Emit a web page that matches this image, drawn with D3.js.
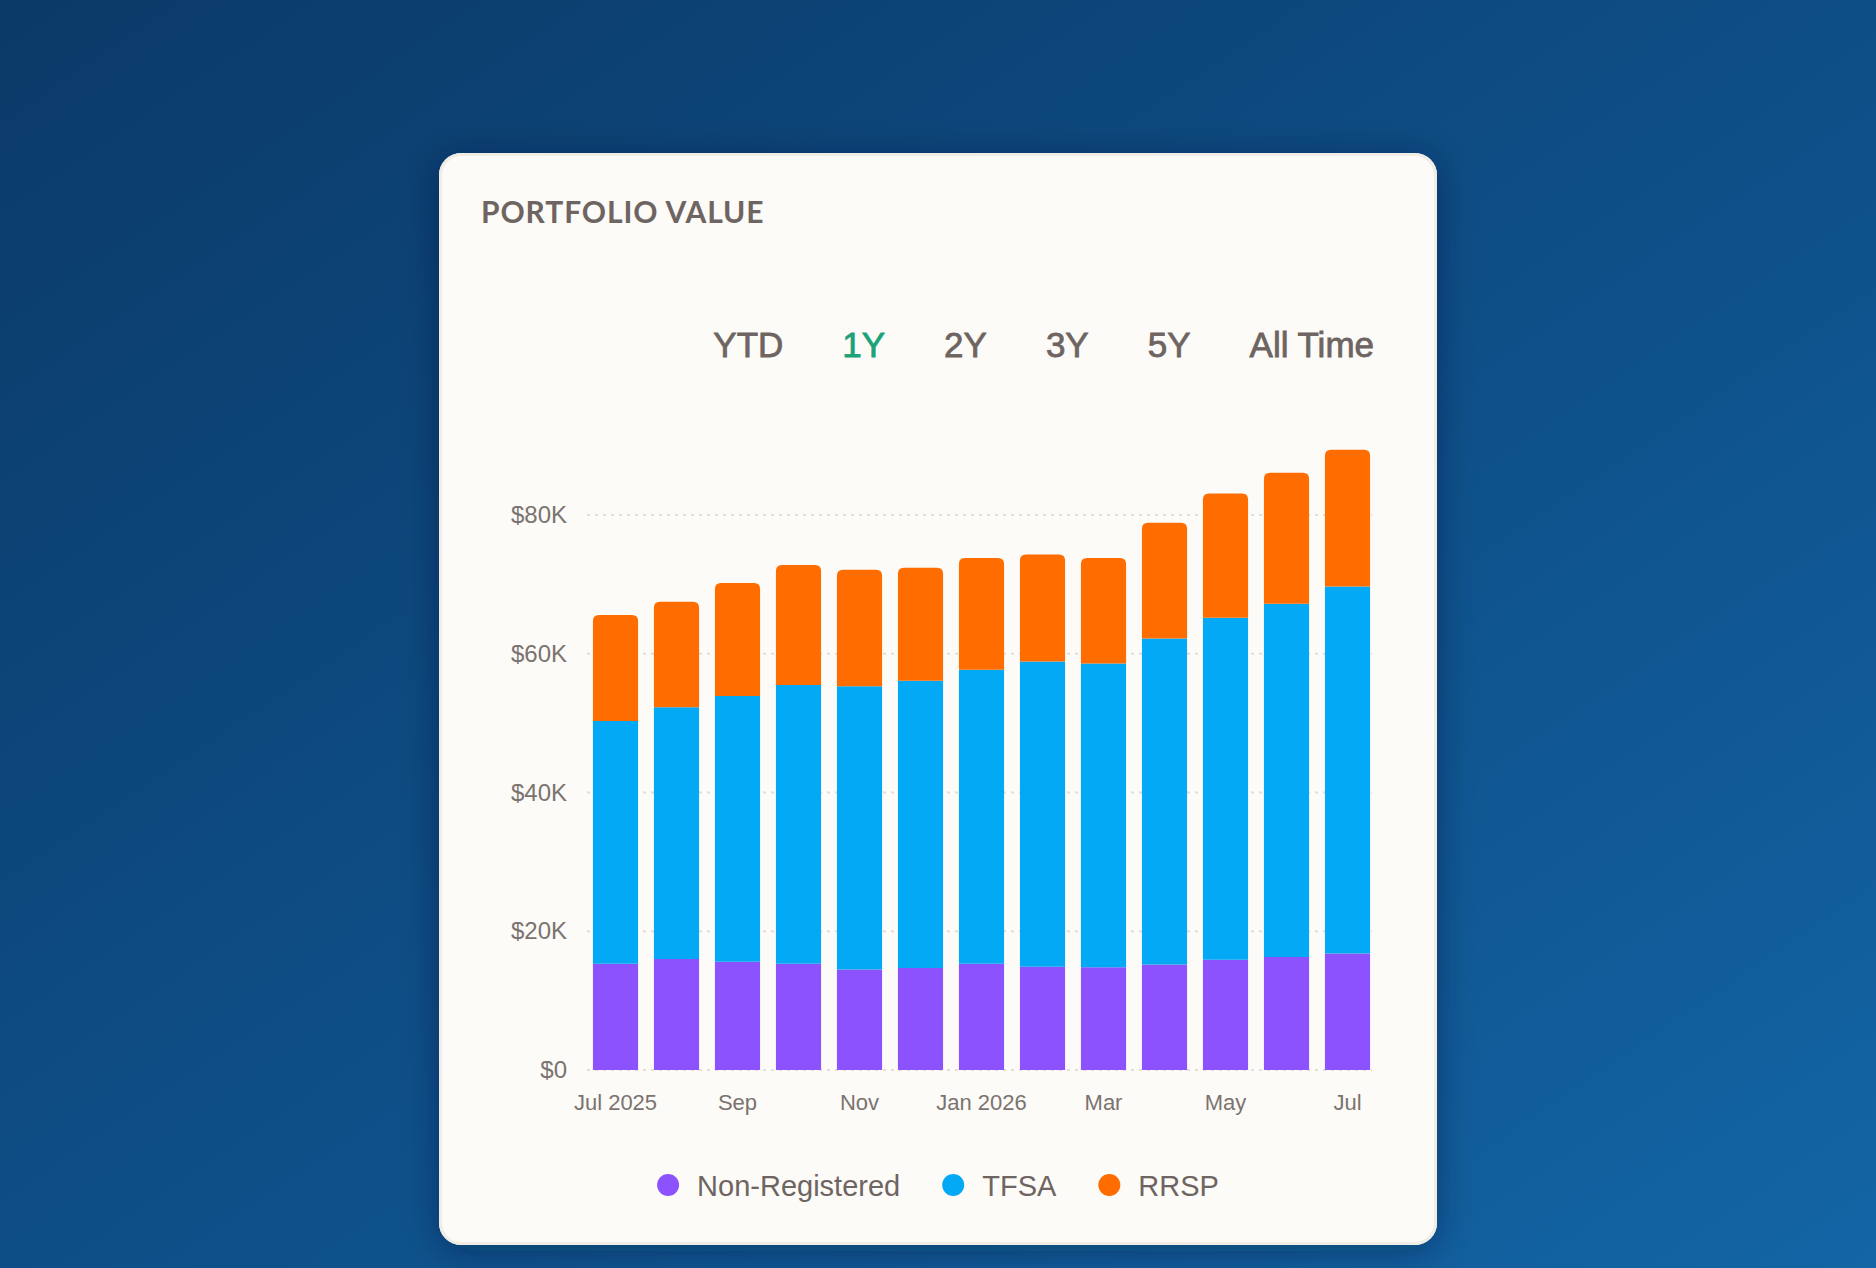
<!DOCTYPE html>
<html>
<head>
<meta charset="utf-8">
<script src="https://cdn.jsdelivr.net/npm/d3@7"></script>
<style>
    html, body { margin: 0; padding: 0; overflow: hidden; }
    body { width: 1876px; height: 1268px; }
    svg { display: block; }
</style>
</head>
<body>
<div id="chart"></div>
<script>
// months on the x axis (one bar each)
var months = ["2025-07", "2025-08", "2025-09", "2025-10", "2025-11", "2025-12", "2026-01",
    "2026-02", "2026-03", "2026-04", "2026-05", "2026-06", "2026-07"];
var monthLabels = ["Jul 2025", "", "Sep", "", "Nov", "", "Jan 2026", "", "Mar", "", "May", "", "Jul"];

// account values, in dollars
var nonRegistered = [15300, 16000, 15600, 15300, 14500, 14700, 15300, 14900, 14800, 15200, 15900, 16300, 16800];
var tfsa = [35000, 36300, 38300, 40200, 40800, 41400, 42400, 44000, 43800, 47000, 49300, 50900, 52900];
var rrsp = [15300, 15200, 16300, 17300, 16800, 16300, 16100, 15400, 15200, 16700, 17900, 18900, 19700];

var seriesNames = ["Non-Registered", "TFSA", "RRSP"];
var yTicks = [0, 20000, 40000, 60000, 80000];
var ranges = ["YTD", "1Y", "2Y", "3Y", "5Y", "All Time"];
var activeRange = "1Y";

var colors = { "Non-Registered": "#8c52fd", "TFSA": "#03a9f4", "RRSP": "#ff6d00" };

var W = 1876, H = 1268;
var card = { x: 439, y: 153, w: 998, h: 1092, r: 22 };
var textColor = "#6e6461",
    axisColor = "#7b7370";

var svg = d3.select("#chart").append("svg")
    .attr("width", W)
    .attr("height", H);

var defs = svg.append("defs");

var bg = defs.append("linearGradient")
    .attr("id", "bg")
    .attr("x1", 0).attr("y1", 0)
    .attr("x2", 1).attr("y2", 1);
bg.append("stop").attr("offset", "0%").attr("stop-color", "#0b3a68");
bg.append("stop").attr("offset", "55%").attr("stop-color", "#0e5089");
bg.append("stop").attr("offset", "100%").attr("stop-color", "#1365a5");

var shadow = defs.append("filter")
    .attr("id", "shadow")
    .attr("x", "-10%").attr("y", "-10%")
    .attr("width", "120%").attr("height", "120%");
shadow.append("feDropShadow")
    .attr("dx", 0).attr("dy", 6)
    .attr("stdDeviation", 18)
    .attr("flood-color", "#041a33")
    .attr("flood-opacity", 0.4);

svg.append("rect")
    .attr("width", W)
    .attr("height", H)
    .attr("fill", "url(#bg)");

// card
svg.append("rect")
    .attr("x", card.x).attr("y", card.y)
    .attr("width", card.w).attr("height", card.h)
    .attr("rx", card.r)
    .attr("fill", "#fcfbf7")
    .attr("filter", "url(#shadow)");

svg.append("rect")
    .attr("x", card.x + 1.5).attr("y", card.y + 1.5)
    .attr("width", card.w - 3).attr("height", card.h - 3)
    .attr("rx", card.r - 1)
    .attr("fill", "none")
    .attr("stroke", "#efede5")
    .attr("stroke-width", 3);

svg.append("text")
    .attr("x", 481)
    .attr("y", 223)
    .attr("font-family", "Lato, 'Noto Sans', sans-serif")
    .attr("font-weight", 700)
    .attr("font-size", 30)
    .attr("letter-spacing", 0.9)
    .attr("fill", textColor)
    .text("PORTFOLIO VALUE");

// range selector, laid out right to left
var rangeG = svg.append("g")
    .attr("font-family", "'Liberation Sans', Arial, sans-serif")
    .attr("font-size", 35);

var rangeText = rangeG.selectAll("text")
    .data(ranges)
    .enter().append("text")
    .attr("y", 357)
    .attr("fill", function (d) { return d === activeRange ? "#18a378" : textColor; })
    .attr("stroke", function (d) { return d === activeRange ? "#18a378" : textColor; })
    .attr("stroke-width", 0.8)
    .text(function (d) { return d; });

var cursor = 1374;
var rangeNodes = rangeText.nodes();
for (var i = rangeNodes.length - 1; i >= 0; i--) {
    var len = rangeNodes[i].getComputedTextLength();
    cursor -= len;
    d3.select(rangeNodes[i]).attr("x", cursor);
    cursor -= 59;
}

// scales
var x = d3.scaleBand()
    .domain(months)
    .range([585, 1378])
    .paddingInner(0.26)
    .paddingOuter(0.13);

var y = d3.scaleLinear()
    .domain([0, 80000])
    .range([1070, 515]);

var table = months.map(function (m, i) {
    return { month: m, "Non-Registered": nonRegistered[i], "TFSA": tfsa[i], "RRSP": rrsp[i] };
});

var stack = d3.stack().keys(seriesNames)(table);

// grid
svg.append("g")
    .selectAll("line")
    .data(yTicks)
    .enter().append("line")
    .attr("x1", 587)
    .attr("x2", 1372)
    .attr("y1", function (d) { return y(d); })
    .attr("y2", function (d) { return y(d); })
    .attr("stroke", "#e2dfd8")
    .attr("stroke-width", 2)
    .attr("stroke-dasharray", "3,5");

var yAxis = svg.append("g")
    .attr("transform", "translate(567,0)")
    .call(d3.axisLeft(y)
        .tickValues(yTicks)
        .tickSize(0)
        .tickPadding(0)
        .tickFormat(function (d) { return d === 0 ? "$0" : "$" + d / 1000 + "K"; }));
yAxis.select(".domain").remove();
yAxis.selectAll("text")
    .attr("font-family", "'Liberation Sans', Arial, sans-serif")
    .attr("font-size", 24)
    .attr("fill", axisColor);

var xAxis = svg.append("g")
    .attr("transform", "translate(0,1070)")
    .call(d3.axisBottom(x)
        .tickSize(0)
        .tickPadding(0)
        .tickFormat(function (d, i) { return monthLabels[i]; }));
xAxis.select(".domain").remove();
xAxis.selectAll("text")
    .attr("dy", null)
    .attr("y", 40)
    .attr("font-family", "'Liberation Sans', Arial, sans-serif")
    .attr("font-size", 22)
    .attr("fill", axisColor);

// top corners rounded only on the last layer
function barPath(x0, y0, w, h, r) {
    return "M" + x0 + "," + (y0 + h) +
        "V" + (y0 + r) +
        "Q" + x0 + "," + y0 + " " + (x0 + r) + "," + y0 +
        "H" + (x0 + w - r) +
        "Q" + (x0 + w) + "," + y0 + " " + (x0 + w) + "," + (y0 + r) +
        "V" + (y0 + h) + "Z";
}

var layers = svg.append("g")
    .selectAll("g")
    .data(stack)
    .enter().append("g")
    .attr("fill", function (d) { return colors[d.key]; });

layers.selectAll("path")
    .data(function (d) { return d.map(function (p) { return { p: p, top: d.index === stack.length - 1 }; }); })
    .enter().append("path")
    .attr("d", function (d) {
        var y0 = y(d.p[1]), h = y(d.p[0]) - y(d.p[1]);
        return barPath(x(d.p.data.month), y0, x.bandwidth(), h, d.top ? 6 : 0);
    });

// legend, centred on the card
var legend = svg.append("g")
    .attr("font-family", "'Liberation Sans', Arial, sans-serif")
    .attr("font-size", 29);

var items = legend.selectAll("g")
    .data(seriesNames)
    .enter().append("g");

items.append("circle")
    .attr("r", 11)
    .attr("cy", 1185)
    .attr("fill", function (d) { return colors[d]; });

items.append("text")
    .attr("x", 29)
    .attr("y", 1196)
    .attr("fill", textColor)
    .text(function (d) { return d; });

var gap = 53;
var widths = items.select("text").nodes().map(function (n) { return n.getComputedTextLength(); });
var total = 11 + 29 * widths.length + d3.sum(widths) + gap * (widths.length - 1);
var lx = card.x + card.w / 2 - total / 2 + 11;
items.attr("transform", function (d, i) {
    var t = "translate(" + lx + ",0)";
    lx += 29 + widths[i] + gap;
    return t;
});
</script>
</body>
</html>
